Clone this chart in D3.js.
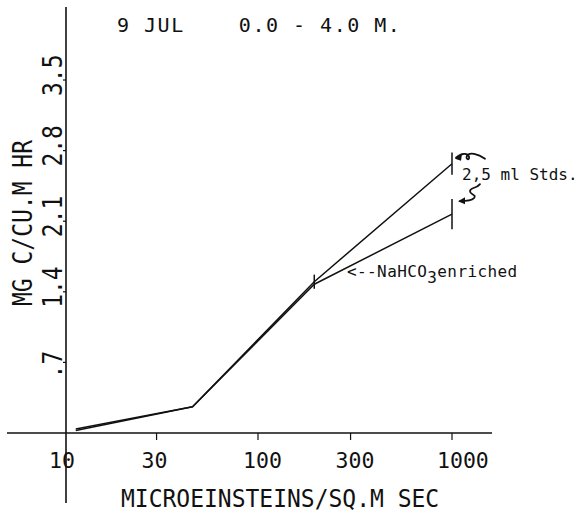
<!DOCTYPE html>
<html>
<head>
<meta charset="utf-8">
<script src="https://cdn.jsdelivr.net/npm/d3@7"></script>
<style>
  html, body { margin: 0; padding: 0; background: #fff; }
  svg { display: block; }
  text { font-family: "DejaVu Sans Mono", "Liberation Mono", monospace; fill: #111; }
</style>
</head>
<body>
<svg id="chart" width="583" height="513"></svg>
<script>
// Light levels (microeinsteins per sq. m per sec)
const lightStd = [11.5, 46, 195, 1000];
const lightEnr = [11.5, 46, 195, 1000];
// Production, mg C per cubic metre per hour
const prodStd = [0.025, 0.26, 1.50, 2.67];
const prodEnr = [0.04, 0.26, 1.475, 2.17];
// Replicate spread shown as vertical bars
const barLight = [195, 1000, 1000];
const barMean = [1.50, 2.67, 2.17];
const barHalf = [0.07, 0.11, 0.15];

const xTicks = [10, 30, 100, 300, 1000];
const xTickLabels = ["10", "30", "100", "300", "1000"];
const yTicks = [0.7, 1.4, 2.1, 2.8, 3.5];
const yTickLabels = [".7", "1.4", "2.1", "2.8", "3.5"];

const svg = d3.select("#chart");
const x = d3.scaleLog().domain([10, 1000]).range([64, 452]);
const y = d3.scaleLinear().domain([0, 3.5]).range([433, 80]);
const axisX = 66;

// Axis lines
svg.append("line").attr("x1", axisX).attr("x2", axisX).attr("y1", 7).attr("y2", 503)
  .attr("stroke", "#111").attr("stroke-width", 1.6);
svg.append("line").attr("x1", 7).attr("x2", 492).attr("y1", y(0)).attr("y2", y(0))
  .attr("stroke", "#111").attr("stroke-width", 1.6);

// X ticks (small marks below the axis) and labels
svg.selectAll(".xt").data(xTicks.slice(1)).join("line").attr("class", "xt")
  .attr("x1", d => x(d)).attr("x2", d => x(d))
  .attr("y1", y(0)).attr("y2", y(0) + 7)
  .attr("stroke", "#111").attr("stroke-width", 1.2);
svg.selectAll(".xl").data(xTicks).join("text").attr("class", "xl")
  .attr("x", d => x(d) - 15).attr("y", 468)
  .attr("font-size", 21.5)
  .text((d, i) => xTickLabels[i]);

// Y ticks (small marks left of the axis) and rotated labels
svg.selectAll(".yt").data(yTicks).join("line").attr("class", "yt")
  .attr("x1", axisX - 3).attr("x2", axisX)
  .attr("y1", d => y(d)).attr("y2", d => y(d))
  .attr("stroke", "#111").attr("stroke-width", 1.2);
svg.selectAll(".yl").data(yTicks).join("text").attr("class", "yl")
  .attr("transform", d => `translate(62,${y(d) + 16}) rotate(-90) scale(1,1.15)`)
  .attr("font-size", 23)
  .text((d, i) => yTickLabels[i]);

// Axis titles
svg.append("text")
  .attr("transform", "translate(32,306) rotate(-90) scale(1,1.15)")
  .attr("font-size", 23)
  .text("MG C/CU.M HR");
svg.append("text")
  .attr("transform", "translate(121,507) scale(1,1.1)")
  .attr("font-size", 23)
  .text("MICROEINSTEINS/SQ.M SEC");

// Heading
svg.append("text")
  .attr("x", 117).attr("y", 32)
  .attr("font-size", 20).attr("letter-spacing", 1.5)
  .attr("xml:space", "preserve")
  .style("white-space", "pre")
  .text("9 JUL    0.0 - 4.0 M.");

// Series lines
const line = d3.line().x(d => x(d[0])).y(d => y(d[1]));
[[lightStd, prodStd], [lightEnr, prodEnr]].forEach(([lx, py]) => {
  svg.append("path")
    .datum(d3.zip(lx, py))
    .attr("d", line)
    .attr("fill", "none").attr("stroke", "#111").attr("stroke-width", 1.5)
    .attr("stroke-linejoin", "round");
});

// Spread bars
svg.selectAll(".eb").data(barLight).join("line").attr("class", "eb")
  .attr("x1", d => x(d)).attr("x2", d => x(d))
  .attr("y1", (d, i) => y(barMean[i] + barHalf[i]))
  .attr("y2", (d, i) => y(barMean[i] - barHalf[i]))
  .attr("stroke", "#111").attr("stroke-width", 1.5);

// Annotations
const enrLabel = svg.append("text")
  .attr("x", 347).attr("y", 277)
  .attr("font-size", 16).attr("letter-spacing", 0.4);
enrLabel.append("tspan").text("<--NaHCO");
enrLabel.append("tspan").attr("dy", 6).text("3");
enrLabel.append("tspan").attr("dy", -6).text("enriched");

svg.append("text")
  .attr("x", 462).attr("y", 180)
  .attr("font-size", 16)
  .attr("xml:space", "preserve").style("white-space", "pre")
  .text("2,5 ml Stds.");

// Curly pointers from the label to the two bars at the highest light level
const hx = x(1000), hyU = y(prodStd[3]), hyL = y(prodEnr[3]);
const curl = svg.append("g").attr("fill", "none").attr("stroke", "#111")
  .attr("stroke-width", 1.8).attr("stroke-linecap", "round");
const tipU = [hx + 4, hyU - 6];
curl.append("path").attr("d",
  `M${tipU[0]},${tipU[1]} C${tipU[0] + 5},${tipU[1] - 5} ${tipU[0] + 12},${tipU[1] - 5} ${tipU[0] + 13},${tipU[1] - 1}
   C${tipU[0] + 14},${tipU[1] + 3} ${tipU[0] + 9},${tipU[1] + 2} ${tipU[0] + 11},${tipU[1] - 2}
   C${tipU[0] + 13},${tipU[1] - 6} ${tipU[0] + 22},${tipU[1] - 4} ${tipU[0] + 29},${tipU[1] + 1}`);
svg.append("path").attr("fill", "#111")
  .attr("d", `M${tipU[0] - 1},${tipU[1] + 1} L${tipU[0] + 6},${tipU[1] - 4} L${tipU[0] + 5},${tipU[1] + 3} Z`);

const tipL = [hx + 8, hyL - 13];
curl.append("path").attr("d",
  `M${tipL[0] + 20},${tipL[1] - 17} C${tipL[0] + 16},${tipL[1] - 12} ${tipL[0] + 10},${tipL[1] - 14} ${tipL[0] + 10},${tipL[1] - 10}
   C${tipL[0] + 10},${tipL[1] - 6} ${tipL[0] + 17},${tipL[1] - 7} ${tipL[0] + 14},${tipL[1] - 3}
   C${tipL[0] + 11},${tipL[1]} ${tipL[0] + 5},${tipL[1]} ${tipL[0]},${tipL[1]}`);
svg.append("path").attr("fill", "#111")
  .attr("d", `M${tipL[0] - 2},${tipL[1]} L${tipL[0] + 5},${tipL[1] - 4} L${tipL[0] + 5},${tipL[1] + 3} Z`);
</script>
</body>
</html>
